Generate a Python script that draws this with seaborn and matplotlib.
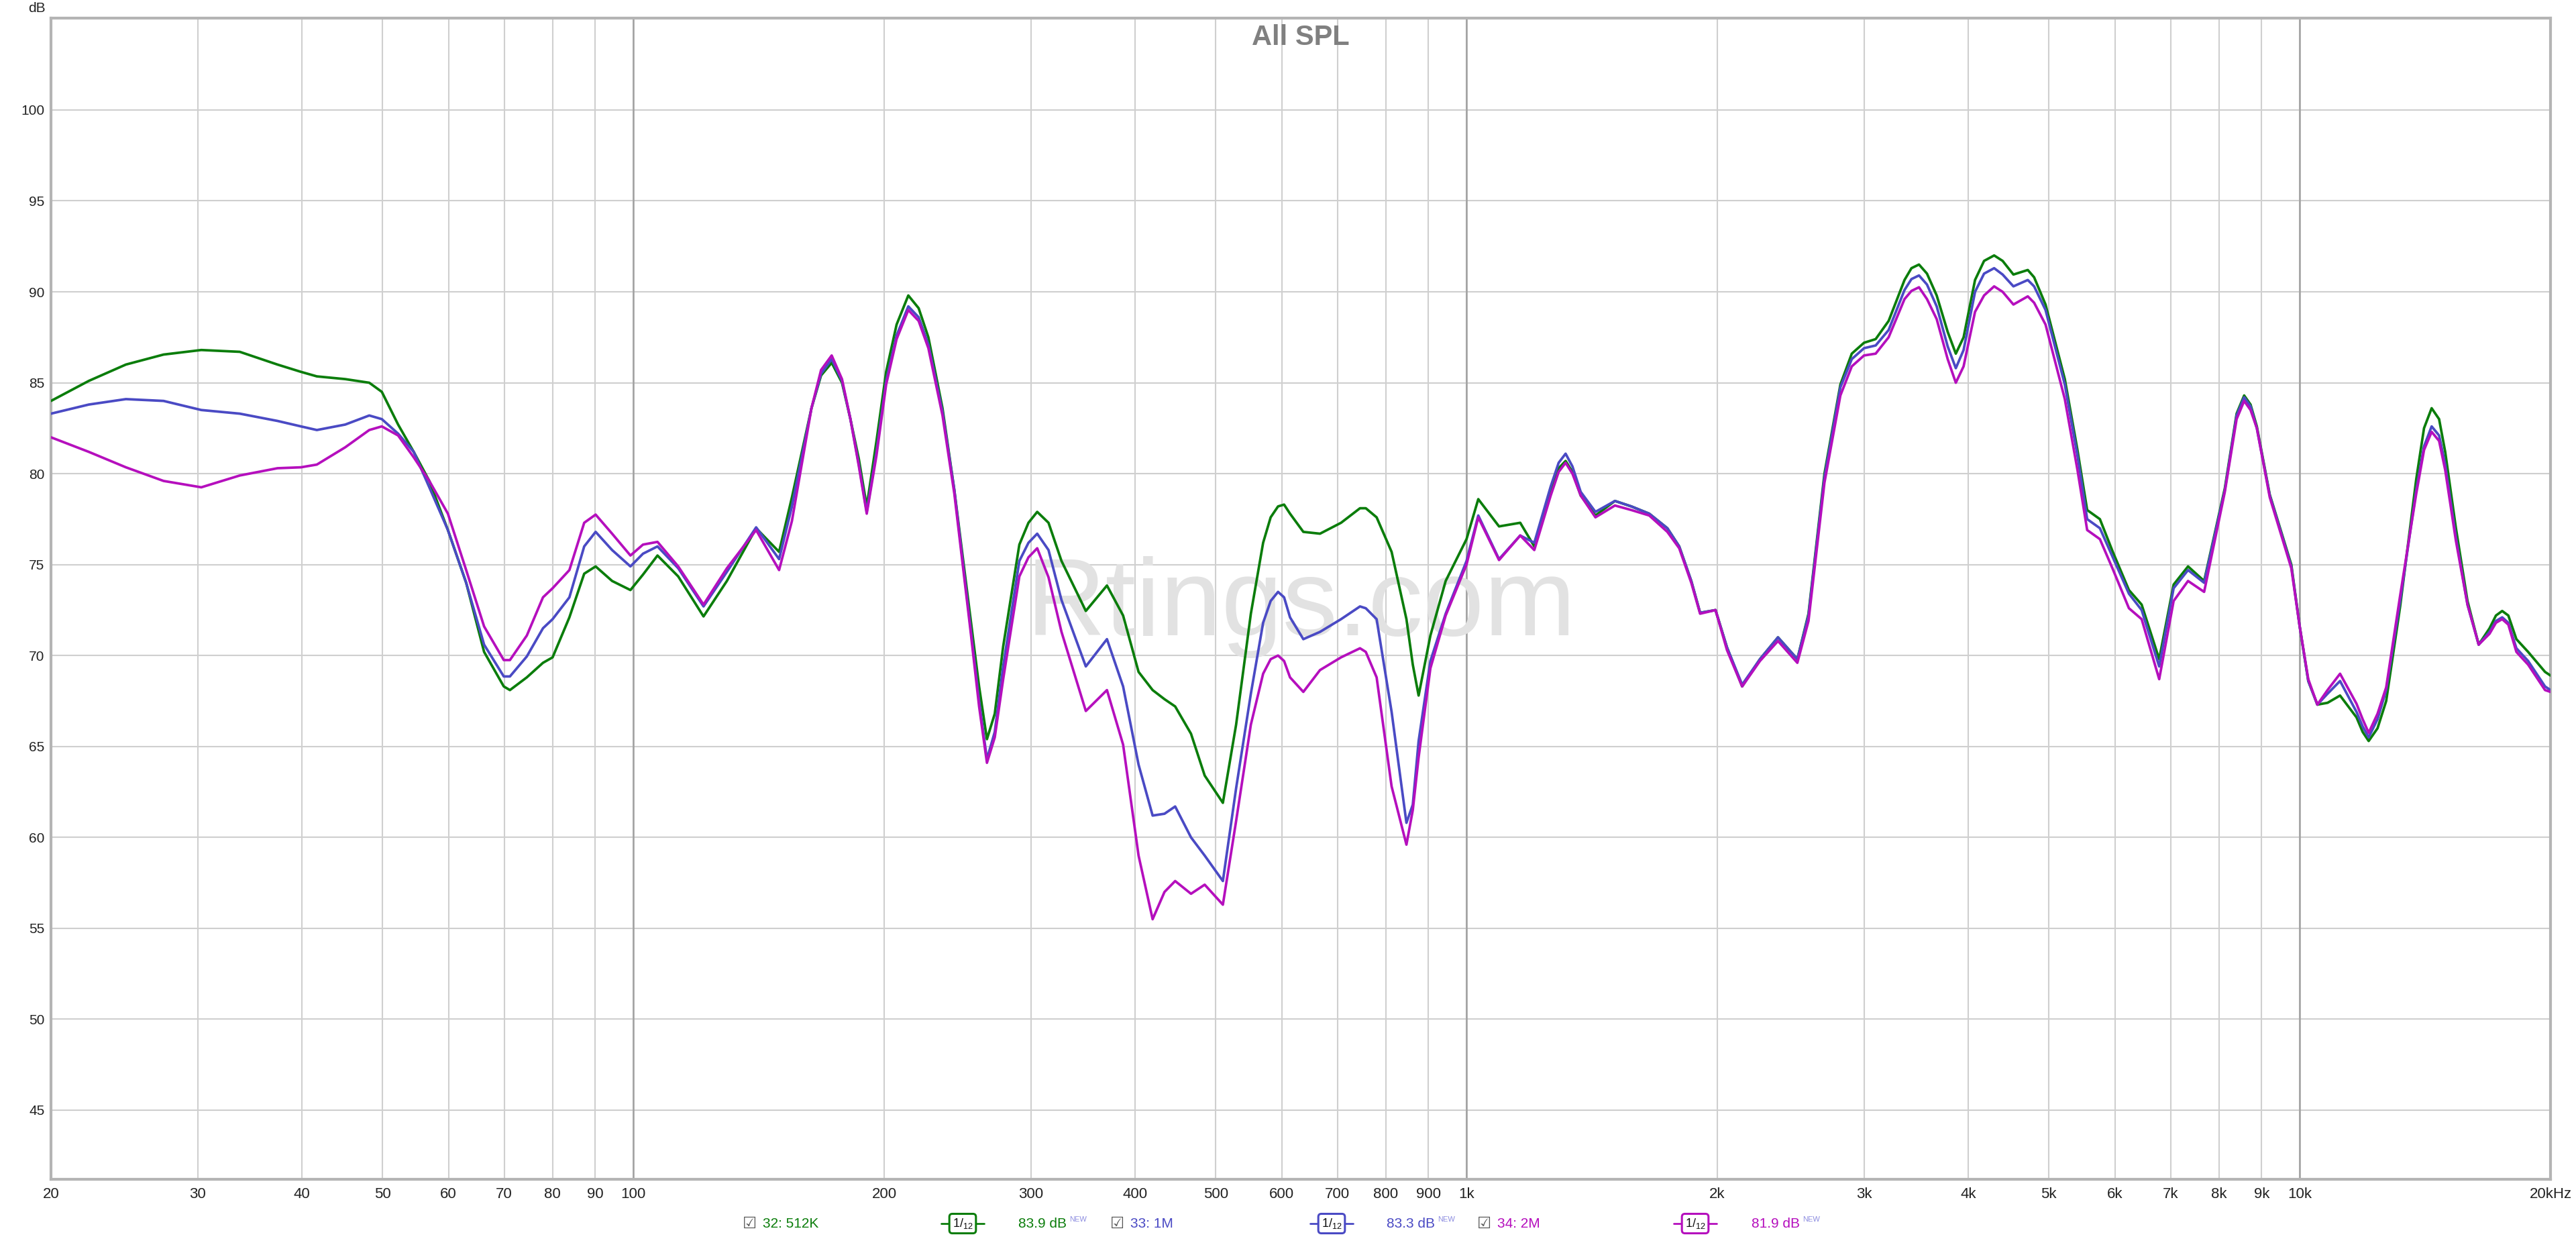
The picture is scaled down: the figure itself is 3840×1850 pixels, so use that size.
import pandas as pd
import matplotlib
matplotlib.use('Agg')
import matplotlib.pyplot as plt
import seaborn as sns
from matplotlib.lines import Line2D

# frequency response (Hz / dB SPL)
freq_hz = [20, 22.2, 24.6, 27.3, 30.3, 33.7, 37.4, 39.9, 41.7, 45.1, 48.2, 49.9, 52.2, 54.5,
           56.9, 59.9, 63.0, 66.2, 69.9, 71.1, 74.5, 77.9, 80.0, 83.8, 87.3, 90.1, 94.3, 99.2,
           102.7, 106.9, 113.2, 121.4, 129.5, 140.4, 149.6, 155.0, 163.6,
           168, 173.0, 178, 182.2, 186.5, 190.6, 195.8, 201.1, 207, 213.8,
           220, 226.0, 235, 242.8, 254.0, 260, 265.7, 271.5, 277.9, 290.6,
           298, 305.3, 315, 326.5, 349.2, 370.2, 387.1,
           404, 420, 434, 447, 467, 485, 510, 529, 551, 570,
           582, 594, 604, 614, 637, 667, 707, 745, 757, 780,
           813, 847, 862, 876, 905, 944, 1000, 1033, 1094, 1160,
           1206, 1262, 1290, 1315, 1340, 1371, 1428, 1507, 1577, 1657,
           1742, 1800, 1861, 1907, 1990, 2054, 2142, 2250, 2365, 2495,
           2573, 2689, 2810, 2900, 3000, 3098, 3211, 3355, 3420, 3492,
           3570, 3667, 3780, 3866, 3950, 4077, 4180, 4298, 4400, 4533,
           4717, 4800, 4954, 5225, 5411, 5558, 5757, 5966, 6238, 6461,
           6782, 7058, 7345, 7679, 8131, 8400, 8577, 8730, 8883, 9206, 9771,
           10000, 10240, 10500, 10800, 11180, 11700, 11900, 12100, 12400, 12700,
           13200, 13800, 14100, 14400, 14700, 14950, 15400, 15900, 16400, 16900,
           17200, 17500, 17800, 18200, 18800, 19700, 20000]

spl_512k = [84.0, 85.1, 86.0, 86.55, 86.8, 86.7, 86.0, 85.6, 85.35, 85.2, 85.0, 84.5, 82.7, 81.2,
            79.6, 76.9, 74.0, 70.2, 68.3, 68.1, 68.8, 69.6, 69.9, 72.1, 74.5, 74.9, 74.1, 73.6,
            74.45, 75.5, 74.35, 72.15, 74.1, 77.0, 75.7, 78.7, 83.6,
            85.4, 86.1, 85.0, 83.0, 80.8, 78.2, 81.8, 85.6, 88.2, 89.8,
            89.1, 87.5, 83.6, 79.1, 72.0, 68.3, 65.4, 66.8, 70.5, 76.1,
            77.3, 77.9, 77.3, 75.2, 72.45, 73.85, 72.2,
            69.1, 68.1, 67.6, 67.2, 65.7, 63.4, 61.9, 66.2, 72.3, 76.2,
            77.6, 78.2, 78.3, 77.8, 76.8, 76.7, 77.3, 78.1, 78.1, 77.6,
            75.7, 72.0, 69.5, 67.8, 71.1, 74.1, 76.4, 78.6, 77.1, 77.3,
            76.0, 79.0, 80.3, 80.7, 80.1, 78.8, 77.7, 78.5, 78.2, 77.8,
            77.0, 76.0, 74.1, 72.35, 72.5, 70.45, 68.3, 69.8, 71.0, 69.8,
            72.3, 80.0, 84.9, 86.6, 87.2, 87.4, 88.4, 90.65, 91.3, 91.5,
            91.0, 89.8, 87.8, 86.6, 87.5, 90.65, 91.7, 92.0, 91.7, 90.95,
            91.2, 90.8, 89.3, 85.2, 81.3, 78.0, 77.5, 75.7, 73.6, 72.8,
            69.8, 73.9, 74.9, 74.1, 79.2, 83.3, 84.3, 83.8, 82.6, 78.85, 75.0,
            71.6, 68.6, 67.3, 67.4, 67.8, 66.6, 65.8, 65.3, 66.0, 67.5,
            72.7, 79.7, 82.5, 83.6, 83.0, 81.2, 77.0, 73.0, 70.6, 71.5,
            72.2, 72.45, 72.2, 70.9, 70.2, 69.1, 68.9]

spl_1m = [83.3, 83.8, 84.1, 84.0, 83.5, 83.3, 82.9, 82.6, 82.4, 82.7, 83.2, 83.0, 82.2, 81.2,
          79.25, 76.9, 74.0, 70.6, 68.85, 68.85, 69.95, 71.5, 72.0, 73.2, 76.0, 76.8, 75.8, 74.9,
          75.6, 76.0, 74.8, 72.7, 74.6, 77.05, 75.3, 78.2, 83.6,
          85.5, 86.3, 85.1, 83.0, 80.5, 77.9, 81.2, 85.1, 87.6, 89.2,
          88.6, 87.1, 83.4, 79.1, 71.5, 67.5, 64.3, 65.8, 69.4, 75.2,
          76.2, 76.7, 75.8, 73.05, 69.4, 70.9, 68.3,
          64.0, 61.2, 61.3, 61.7, 60.0, 59.0, 57.6, 62.7, 67.9, 71.8,
          73.0, 73.5, 73.2, 72.1, 70.9, 71.3, 72.0, 72.7, 72.6, 72.0,
          66.9, 60.8, 61.8, 65.3, 69.7, 72.3, 75.2, 77.7, 75.3, 76.6,
          76.2, 79.3, 80.6, 81.1, 80.4, 79.0, 77.9, 78.5, 78.2, 77.8,
          77.0, 76.0, 74.1, 72.35, 72.5, 70.45, 68.4, 69.8, 71.0, 69.8,
          72.2, 79.8, 84.75, 86.3, 86.9, 87.05, 87.9, 90.1, 90.7, 90.9,
          90.4, 89.2, 87.0, 85.8, 86.8, 90.0, 91.0, 91.3, 90.95, 90.3,
          90.65, 90.3, 89.0, 84.9, 81.0, 77.5, 77.0, 75.4, 73.4, 72.5,
          69.4, 73.7, 74.7, 74.0, 79.1, 83.2, 84.2, 83.7, 82.5, 78.8, 74.9,
          71.6, 68.6, 67.3, 67.9, 68.6, 66.9, 66.1, 65.5, 66.5, 68.1,
          73.0, 79.1, 81.5, 82.6, 82.1, 80.5, 76.5, 72.8, 70.6, 71.3,
          71.9, 72.1, 71.8, 70.4, 69.7, 68.3, 68.1]

spl_2m = [82.0, 81.2, 80.35, 79.6, 79.25, 79.9, 80.3, 80.35, 80.5, 81.45, 82.4, 82.6, 82.1, 80.9,
          79.6, 77.8, 74.7, 71.6, 69.75, 69.75, 71.1, 73.2, 73.7, 74.7, 77.3, 77.75, 76.7, 75.5,
          76.1, 76.25, 74.9, 72.8, 74.8, 76.9, 74.7, 77.4, 83.6,
          85.7, 86.5, 85.2, 83.0, 80.4, 77.8, 81.0, 84.9, 87.4, 89.0,
          88.4, 86.9, 83.2, 78.9, 71.3, 67.2, 64.1, 65.5, 68.7, 74.35,
          75.4, 75.9, 74.3, 71.3, 66.95, 68.1, 65.1,
          59.0, 55.5, 57.0, 57.6, 56.9, 57.4, 56.3, 60.9, 66.2, 69.0,
          69.8, 70.0, 69.7, 68.8, 68.0, 69.2, 69.9, 70.4, 70.2, 68.8,
          62.8, 59.6, 61.5, 64.4, 69.3, 72.2, 75.0, 77.6, 75.25, 76.6,
          75.8, 78.8, 80.1, 80.6, 80.0, 78.8, 77.6, 78.25, 78.0, 77.7,
          76.8, 75.9, 74.0, 72.3, 72.5, 70.3, 68.3, 69.7, 70.8, 69.6,
          71.9, 79.5, 84.3, 85.9, 86.5, 86.6, 87.5, 89.6, 90.05, 90.25,
          89.6, 88.5, 86.3, 85.0, 85.9, 88.9, 89.8, 90.3, 90.0, 89.3,
          89.75, 89.4, 88.2, 84.1, 80.2, 76.9, 76.4, 74.75, 72.6, 72.0,
          68.7, 73.0, 74.1, 73.5, 79.0, 83.0, 84.0, 83.5, 82.5, 78.7, 74.8,
          71.6, 68.7, 67.3, 68.1, 69.0, 67.35, 66.5, 65.75, 66.8, 68.25,
          73.3, 78.9, 81.3, 82.3, 81.8, 80.2, 76.3, 72.8, 70.6, 71.2,
          71.8, 72.0, 71.7, 70.2, 69.5, 68.1, 68.0]

series_names = ['32: 512K', '33: 1M', '34: 2M']
series_colors = ['#0b7d0b', '#4a4ac4', '#b50fbd']
avg_levels = ['83.9 dB', '83.3 dB', '81.9 dB']

y_ticks = [45, 50, 55, 60, 65, 70, 75, 80, 85, 90, 95, 100]
x_ticks = [20, 30, 40, 50, 60, 70, 80, 90, 100, 200, 300, 400, 500, 600, 700, 800, 900,
           1000, 2000, 3000, 4000, 5000, 6000, 7000, 8000, 9000, 10000, 20000]
x_tick_labels = ['20', '30', '40', '50', '60', '70', '80', '90', '100', '200', '300', '400',
                 '500', '600', '700', '800', '900', '1k', '2k', '3k', '4k', '5k', '6k', '7k',
                 '8k', '9k', '10k', '20kHz']

df = pd.DataFrame({
    'freq': freq_hz * 3,
    'spl': spl_512k + spl_1m + spl_2m,
    'series': [n for n in series_names for _ in freq_hz],
})

sns.set_style('white')
plt.rcParams['font.family'] = ['Liberation Sans', 'DejaVu Sans']
narrow = ['Liberation Sans Narrow', 'Liberation Sans', 'DejaVu Sans']

W, H = 3840, 1850
fig = plt.figure(figsize=(W / 100, H / 100), dpi=100)
ax = fig.add_axes([76 / W, 92 / H, (3802 - 76) / W, (1758 - 27) / H])

sns.lineplot(data=df, x='freq', y='spl', hue='series', palette=dict(zip(series_names, series_colors)),
             hue_order=series_names, estimator=None, sort=False, linewidth=2.7, legend=False,
             ax=ax, zorder=3, solid_joinstyle='round', solid_capstyle='round')

ax.set_xscale('log')
ax.set_xlim(20, 20000)
ax.set_ylim(41.2, 105.05)
ax.set_xticks(x_ticks)
ax.set_xticklabels(x_tick_labels)
ax.xaxis.set_minor_locator(matplotlib.ticker.NullLocator())
ax.set_yticks(y_ticks)
ax.set_xlabel('')
ax.set_ylabel('')
ax.grid(True, color='#cfcfcf', linewidth=1.5, zorder=0)
ax.set_axisbelow(True)
for f in [100, 1000, 10000]:
    ax.axvline(f, color='#a0a0a0', linewidth=1.8, zorder=0.6)

ax.tick_params(length=0, labelsize=15, colors='#222222')
ax.tick_params(axis='x', pad=9)
ax.tick_params(axis='y', pad=7)
for lbl in ax.get_xticklabels():
    lbl.set_fontfamily(narrow)
    lbl.set_fontsize(16)

for s in ax.spines.values():
    s.set_color('#b4b4b4')
    s.set_linewidth(3)

ax.text(0.5, 0.983, 'All SPL', transform=ax.transAxes, ha='center', va='center',
        fontsize=30, fontweight='bold', color='#808080', zorder=4)
ax.text(0.5, 0.4685, 'Rtings.com', transform=ax.transAxes, ha='center', va='baseline',
        fontsize=118, color='#e2e2e2', zorder=1)
fig.text(42 / W, 1 - 13 / H, 'dB', ha='left', va='center', fontsize=15, color='#222222')

# legend row along the bottom
ly = 1 - 1824 / H
check_x = [1117, 1665, 2212]
icon_x = [1435, 1985, 2527]
level_x = [1518, 2067, 2611]
for i in range(3):
    c = series_colors[i]
    fig.text(check_x[i] / W, ly, '\u2611', ha='center', va='center', fontsize=17,
             color='#555555', family='DejaVu Sans')
    fig.text((check_x[i] + 20) / W, ly, series_names[i], ha='left', va='center', fontsize=15,
             color=c, family=narrow)
    fig.add_artist(Line2D([(icon_x[i] - 32) / W, (icon_x[i] + 32) / W], [ly, ly],
                          transform=fig.transFigure, color=c, linewidth=2))
    fig.text(icon_x[i] / W, ly, r'$\mathregular{1/_{12}}$', ha='center', va='center',
             fontsize=13, color='#111111',
             bbox=dict(boxstyle='round,pad=0.25', fc='white', ec=c, lw=2.2))
    fig.text(level_x[i] / W, ly, avg_levels[i], ha='left', va='center', fontsize=15,
             color=c, family=narrow)
    fig.text((level_x[i] + 76) / W, ly + 6 / H, 'NEW', ha='left', va='center', fontsize=8,
             color='#8c8ce0', family=narrow)

fig.savefig('out.png', dpi=100, facecolor='white')
